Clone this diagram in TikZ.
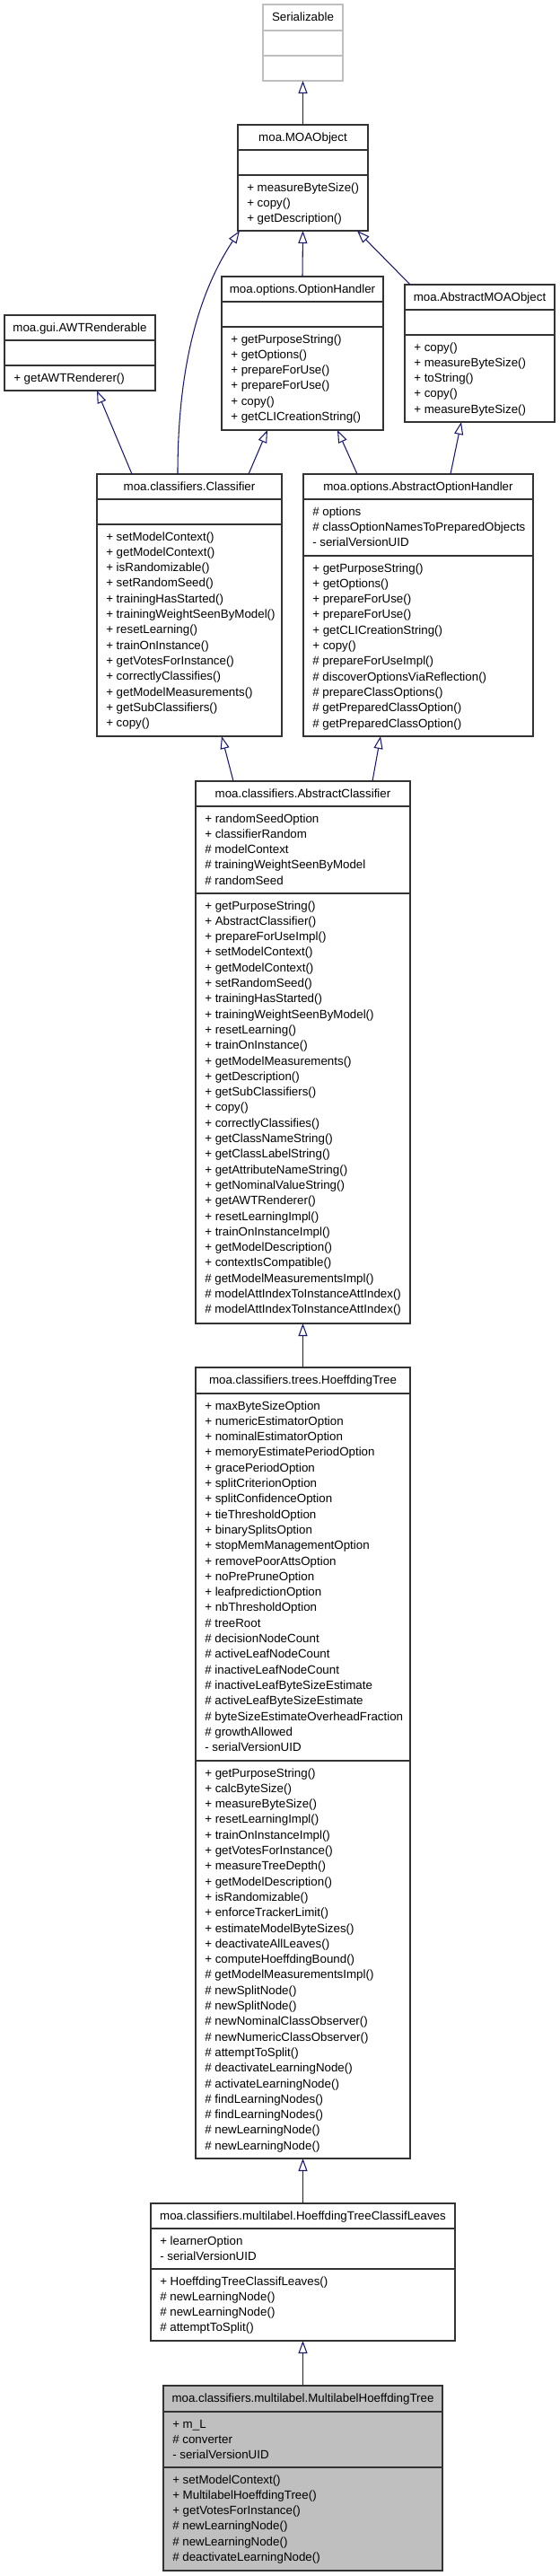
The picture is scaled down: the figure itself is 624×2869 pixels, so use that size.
\documentclass[tikz,border=0pt]{standalone}
\usepackage{fontspec}
\setmainfont{Liberation Sans}
\usetikzlibrary{arrows.meta,fit,calc}
\definecolor{edgeblue}{HTML}{191970}
\definecolor{boxgray}{HTML}{BFBFBF}
\tikzset{
  classbox/.style={draw=black!80, line width=0.95pt, inner sep=0pt, outer sep=0pt, shape=rectangle},
  extbox/.style={classbox, draw=boxgray},
  curbox/.style={classbox, fill=boxgray},
  titletext/.style={anchor=base, inner sep=0pt, font=\fontsize{10}{12}\selectfont},
  linetext/.style={anchor=base west, inner sep=0pt, font=\fontsize{10}{12}\selectfont},
  inh/.style={draw=edgeblue, line width=0.8pt, -{Triangle[open, length=10.5pt, width=7.5pt]}},
}
% #1 name, #2 style, #3 left, #4 right, #5 top, #6 sep1, #7 sep2, #8 bottom, #9 title
\newcommand{\umlclass}[9]{%
  \coordinate (#1-nw) at (#3,#5);
  \coordinate (#1-se) at (#4,#8);
  \node[#2, fit=(#1-nw)(#1-se)] (#1) {};
  \draw[#2, fill=none] (#3,#6) -- (#4,#6) (#3,#7) -- (#4,#7);
  \node[titletext] (#1-title) at ({(#3+#4)/2},{#5+18.5}) {#9};
}
% #1 prefix, #2 left, #3 separator y, #4 list
\newcommand{\umllines}[4]{%
  \foreach \t [count=\i] in {#4} {
    \node[linetext] (#1-\i) at ({#2+10},{#3+18+(\i-1)*17.3}) {\t};
  }
}
\begin{document}
\begin{tikzpicture}[x=0.75pt,y=-0.75pt]
\useasboundingbox (0,0) rectangle (624,2869);

\umlclass{ser}{extbox}{293}{382}{5}{34}{62}{90}{Serializable}

\umlclass{moa}{classbox}{265}{410}{139}{167}{195}{257}{moa.MOAObject}
\umllines{moa-m}{265}{195}{+ measureByteSize(), + copy(), + getDescription()}

\umlclass{oh}{classbox}{247}{427}{308}{336}{364}{479}{moa.options.OptionHandler}
\umllines{oh-m}{247}{364}{+ getPurposeString(), + getOptions(), + prepareForUse(), + prepareForUse(), + copy(), + getCLICreationString()}

\umlclass{amo}{classbox}{451}{618}{317}{345}{373}{470}{moa.AbstractMOAObject}
\umllines{amo-m}{451}{373}{+ copy(), + measureByteSize(), + toString(), + copy(), + measureByteSize()}

\umlclass{awt}{classbox}{5}{173}{351}{379}{407}{435}{moa.gui.AWTRenderable}
\umllines{awt-m}{5}{407}{+ getAWTRenderer()}

\umlclass{clf}{classbox}{108}{314}{528}{556}{584}{820}{moa.classifiers.Classifier}
\umllines{clf-m}{108}{584}{+ setModelContext(), + getModelContext(), + isRandomizable(), + setRandomSeed(), + trainingHasStarted(), + trainingWeightSeenByModel(), + resetLearning(), + trainOnInstance(), + getVotesForInstance(), + correctlyClassifies(), + getModelMeasurements(), + getSubClassifiers(), + copy()}

\umlclass{aoh}{classbox}{338}{594}{528}{556}{619}{820}{moa.options.AbstractOptionHandler}
\umllines{aoh-a}{338}{556}{\# options, \# classOptionNamesToPreparedObjects, - serialVersionUID}
\umllines{aoh-m}{338}{619}{+ getPurposeString(), + getOptions(), + prepareForUse(), + prepareForUse(), + getCLICreationString(), + copy(), \# prepareForUseImpl(), \# discoverOptionsViaReflection(), \# prepareClassOptions(), \# getPreparedClassOption(), \# getPreparedClassOption()}

\umlclass{ac}{classbox}{218}{457}{870}{898}{995}{1474}{moa.classifiers.AbstractClassifier}
\umllines{ac-a}{218}{898}{+ randomSeedOption, + classifierRandom, \# modelContext, \# trainingWeightSeenByModel, \# randomSeed}
\umllines{ac-m}{218}{995}{+ getPurposeString(), + AbstractClassifier(), + prepareForUseImpl(), + setModelContext(), + getModelContext(), + setRandomSeed(), + trainingHasStarted(), + trainingWeightSeenByModel(), + resetLearning(), + trainOnInstance(), + getModelMeasurements(), + getDescription(), + getSubClassifiers(), + copy(), + correctlyClassifies(), + getClassNameString(), + getClassLabelString(), + getAttributeNameString(), + getNominalValueString(), + getAWTRenderer(), + resetLearningImpl(), + trainOnInstanceImpl(), + getModelDescription(), + contextIsCompatible(), \# getModelMeasurementsImpl(), \# modelAttIndexToInstanceAttIndex(), \# modelAttIndexToInstanceAttIndex()}

\umlclass{ht}{classbox}{218}{457}{1523}{1552}{1961}{2404}{moa.classifiers.trees.HoeffdingTree}
\umllines{ht-a}{218}{1552}{+ maxByteSizeOption, + numericEstimatorOption, + nominalEstimatorOption, + memoryEstimatePeriodOption, + gracePeriodOption, + splitCriterionOption, + splitConfidenceOption, + tieThresholdOption, + binarySplitsOption, + stopMemManagementOption, + removePoorAttsOption, + noPrePruneOption, + leafpredictionOption, + nbThresholdOption, \# treeRoot, \# decisionNodeCount, \# activeLeafNodeCount, \# inactiveLeafNodeCount, \# inactiveLeafByteSizeEstimate, \# activeLeafByteSizeEstimate, \# byteSizeEstimateOverheadFraction, \# growthAllowed, - serialVersionUID}
\umllines{ht-m}{218}{1961}{+ getPurposeString(), + calcByteSize(), + measureByteSize(), + resetLearningImpl(), + trainOnInstanceImpl(), + getVotesForInstance(), + measureTreeDepth(), + getModelDescription(), + isRandomizable(), + enforceTrackerLimit(), + estimateModelByteSizes(), + deactivateAllLeaves(), + computeHoeffdingBound(), \# getModelMeasurementsImpl(), \# newSplitNode(), \# newSplitNode(), \# newNominalClassObserver(), \# newNumericClassObserver(), \# attemptToSplit(), \# deactivateLearningNode(), \# activateLearningNode(), \# findLearningNodes(), \# findLearningNodes(), \# newLearningNode(), \# newLearningNode()}

\umlclass{htcl}{classbox}{168}{507}{2454}{2482}{2527}{2607}{moa.classifiers.multilabel.HoeffdingTreeClassifLeaves}
\umllines{htcl-a}{168}{2482}{+ learnerOption, - serialVersionUID}
\umllines{htcl-m}{168}{2527}{+ HoeffdingTreeClassifLeaves(), \# newLearningNode(), \# newLearningNode(), \# attemptToSplit()}

\umlclass{mht}{curbox}{182}{493}{2657}{2686}{2748}{2863}{moa.classifiers.multilabel.MultilabelHoeffdingTree}
\umllines{mht-a}{182}{2686}{+ m\_L, \# converter, - serialVersionUID}
\umllines{mht-m}{182}{2748}{+ setModelContext(), + MultilabelHoeffdingTree(), + getVotesForInstance(), \# newLearningNode(), \# newLearningNode(), \# deactivateLearningNode()}

% inheritance connectors
\draw[inh] (moa.north) -- (ser.south);
\draw[inh] (oh.north) -- (moa.south);
\draw[inh] ($(amo.north west)+(6,0)$) -- ($(moa.south west)+(133,0)$);
\draw[inh] ($(clf.north west)+(90,0)$) .. controls +(0,-128) and +(-42,63) .. ($(moa.south west)+(2,0)$);
\draw[inh] ($(clf.north west)+(39,0)$) -- ($(awt.south west)+(103,0)$);
\draw[inh] ($(clf.north west)+(169,0)$) -- ($(oh.south west)+(51,0)$);
\draw[inh] ($(aoh.north west)+(60,0)$) -- ($(oh.south west)+(129,0)$);
\draw[inh] ($(aoh.north west)+(164,0)$) -- ($(amo.south west)+(63,0)$);
\draw[inh] ($(ac.north west)+(42,0)$) -- ($(clf.south west)+(139,0)$);
\draw[inh] ($(ac.north west)+(197,0)$) -- ($(aoh.south west)+(86,0)$);
\draw[inh] (ht.north) -- (ac.south);
\draw[inh] (htcl.north) -- (ht.south);
\draw[inh] (mht.north) -- (htcl.south);
\end{tikzpicture}
\end{document}
